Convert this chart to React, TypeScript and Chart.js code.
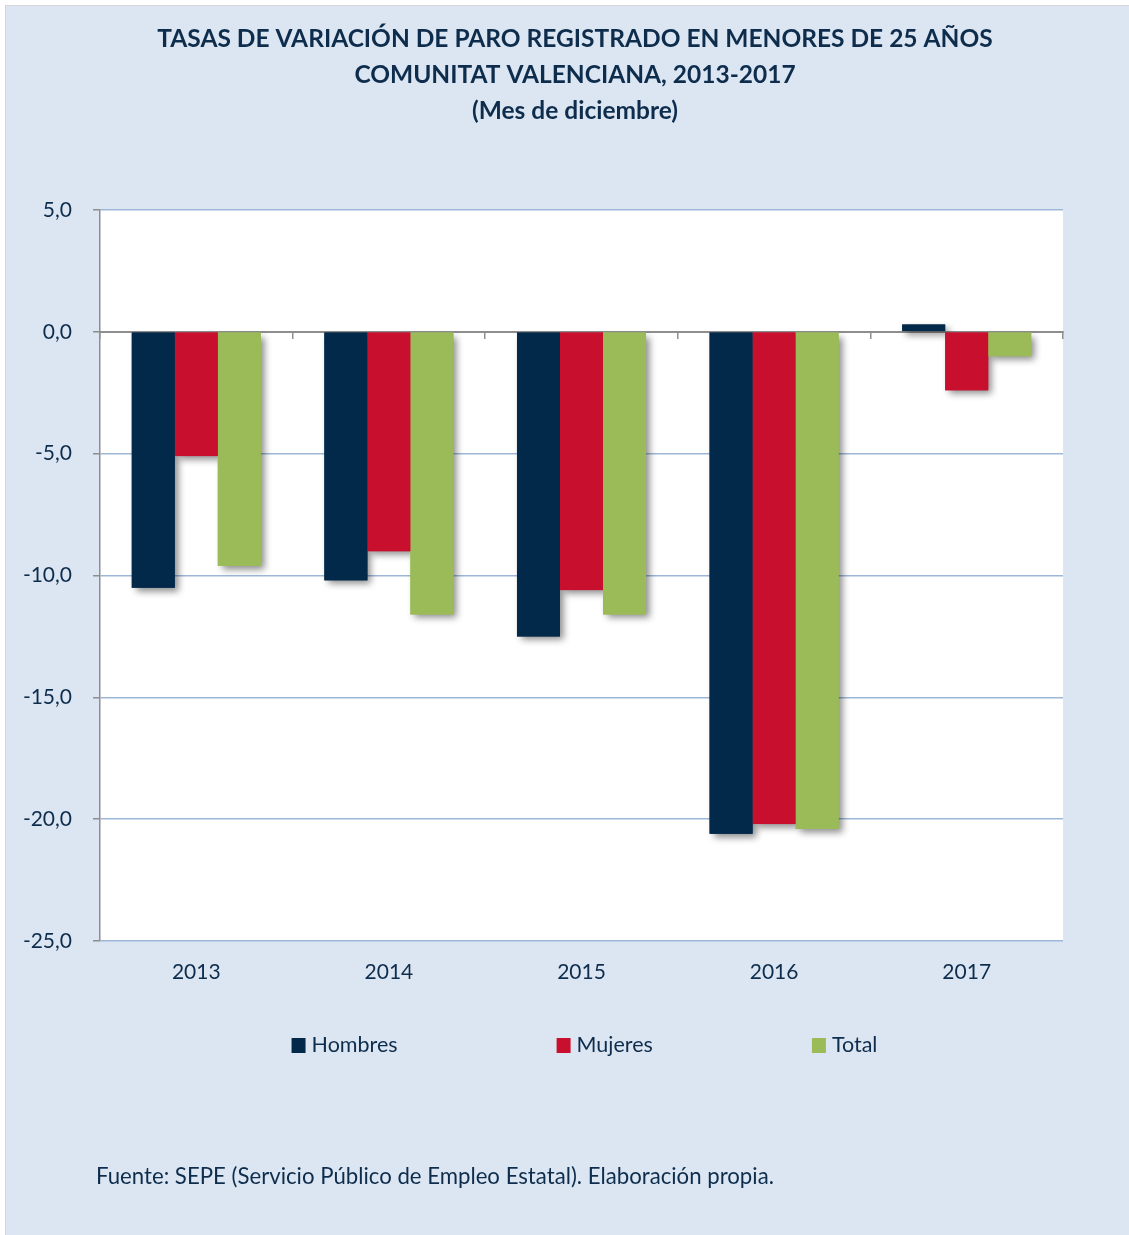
import React, { useEffect, useRef } from 'react';
import { Chart, registerables } from 'chart.js';

Chart.register(...registerables);

const years = ['2013', '2014', '2015', '2016', '2017'];
const hombres = [-10.5, -10.2, -12.5, -20.6, 0.3];
const mujeres = [-5.1, -9.0, -10.6, -20.2, -2.4];
const total = [-9.6, -11.6, -11.6, -20.4, -1.0];
const seriesLabels = ['Hombres', 'Mujeres', 'Total'];
const seriesColors = ['#03294a', '#c8102e', '#9bbb59'];
const yMin = -25;
const yMax = 5;
const yStep = 5;
const titleLines = [
  'TASAS DE VARIACIÓN DE PARO REGISTRADO EN MENORES DE 25 AÑOS',
  'COMUNITAT VALENCIANA, 2013-2017',
  '(Mes de diciembre)',
];
const sourceText = 'Fuente: SEPE (Servicio Público de Empleo Estatal). Elaboración propia.';

const FONT = 'Lato, "Open Sans", sans-serif';
const TEXT = '#0e2d4d';
const GRID = '#9db7d8';
const AXIS = '#8e8e8e';

const W = 1123;
const H = 1229;

const plotBgPlugin = {
  id: 'plotBg',
  beforeDraw(chart: any) {
    const { ctx, chartArea: a } = chart;
    ctx.save();
    ctx.fillStyle = '#ffffff';
    ctx.fillRect(a.left, a.top, a.right - a.left, a.bottom - a.top);
    ctx.restore();
  },
};

const shadowPlugin = {
  id: 'barShadow',
  beforeDatasetsDraw(chart: any) {
    const ctx = chart.ctx;
    ctx.save();
    chart.data.datasets.forEach((ds: any, i: number) => {
      const meta = chart.getDatasetMeta(i);
      meta.data.forEach((el: any) => {
        const p = el.getProps(['x', 'y', 'base', 'width'], true);
        const left = p.x - p.width / 2;
        const top = Math.min(p.y, p.base);
        const h = Math.abs(p.base - p.y);
        ctx.shadowColor = 'rgba(0,0,0,0.45)';
        ctx.shadowBlur = 7;
        ctx.shadowOffsetX = 4;
        ctx.shadowOffsetY = 4;
        ctx.fillStyle = ds.backgroundColor;
        ctx.fillRect(left, top, p.width, h);
      });
    });
    ctx.restore();
  },
};

const legendFooterPlugin = {
  id: 'legendFooter',
  afterDraw(chart: any) {
    const ctx = chart.ctx;
    const area = chart.chartArea;
    ctx.save();
    ctx.font = `21.5px ${FONT}`;
    ctx.textBaseline = 'middle';
    ctx.textAlign = 'left';
    const box = 14;
    const gapBT = 6;
    const gapItems = 159;
    const items = chart.data.datasets.map((d: any) => ({
      text: d.label as string,
      color: d.backgroundColor as string,
      w: ctx.measureText(d.label).width,
    }));
    const totalW =
      items.reduce((s: number, it: any) => s + box + gapBT + it.w, 0) + gapItems * (items.length - 1);
    let x = (area.left + area.right) / 2 + 3 - totalW / 2;
    const cy = area.bottom + 104;
    items.forEach((it: any) => {
      ctx.fillStyle = it.color;
      ctx.fillRect(x, cy - box / 2, box, box + 1);
      ctx.fillStyle = TEXT;
      ctx.fillText(it.text, x + box + gapBT, cy);
      x += box + gapBT + it.w + gapItems;
    });
    ctx.font = `22.2px ${FONT}`;
    ctx.fillStyle = TEXT;
    ctx.fillText(sourceText, 90, area.bottom + 236);
    ctx.restore();
  },
};

export default function App() {
  const ref = useRef<HTMLCanvasElement | null>(null);

  useEffect(() => {
    if (!ref.current) return;
    const zeroTicks = (offset: boolean) => ({
      type: 'category',
      axis: 'x',
      position: { y: 0 },
      offset: true,
      z: 1,
      grid: {
        offset,
        drawOnChartArea: false,
        drawTicks: true,
        tickLength: 6,
        tickColor: AXIS,
        lineWidth: 1.5,
      },
      border: { display: true, color: AXIS, width: 2 },
      ticks: { display: false },
    });
    const chart = new Chart(ref.current, {
      type: 'bar',
      data: {
        labels: years,
        datasets: [
          { label: seriesLabels[0], data: hombres, backgroundColor: seriesColors[0] },
          { label: seriesLabels[1], data: mujeres, backgroundColor: seriesColors[1] },
          { label: seriesLabels[2], data: total, backgroundColor: seriesColors[2] },
        ],
      },
      options: {
        responsive: false,
        animation: false,
        devicePixelRatio: 1,
        datasets: {
          bar: { barPercentage: 1, categoryPercentage: 0.67, borderWidth: 0 },
        },
        layout: { padding: { left: 15, right: 0, top: 0, bottom: 234 } },
        plugins: {
          legend: { display: false },
          tooltip: { enabled: false },
          title: {
            display: true,
            text: titleLines,
            color: TEXT,
            font: { family: FONT, size: 24.5, weight: 'bold', lineHeight: '36px' },
            padding: { top: 15, bottom: 81 },
          },
        },
        scales: {
          x: {
            type: 'category',
            position: 'bottom',
            grid: { display: false, drawTicks: false },
            border: { display: false },
            ticks: { color: TEXT, font: { family: FONT, size: 21 }, padding: 19 },
            afterFit: (s: any) => {
              s.height = 60;
            },
          },
          xzb: zeroTicks(true),
          xzc: zeroTicks(false),
          y: {
            type: 'linear',
            position: 'left',
            min: yMin,
            max: yMax,
            grid: { color: GRID, lineWidth: 1.5, tickColor: AXIS, tickLength: 7, drawTicks: true },
            border: { display: true, color: AXIS, width: 1.5 },
            ticks: {
              stepSize: yStep,
              padding: 21,
              color: TEXT,
              font: { family: FONT, size: 21 },
              callback: (v: any) => Number(v).toFixed(1).replace('.', ','),
            },
            afterFit: (s: any) => {
              s.width = 79;
            },
          },
          yr: {
            type: 'linear',
            position: 'right',
            min: yMin,
            max: yMax,
            grid: { display: false, drawOnChartArea: false, drawTicks: false },
            border: { display: false },
            ticks: { display: false },
            afterFit: (s: any) => {
              s.width = 66;
            },
          },
        },
      } as any,
      plugins: [plotBgPlugin, shadowPlugin, legendFooterPlugin],
    });
    return () => chart.destroy();
  }, []);

  return (
    <div
      style={{
        position: 'absolute',
        left: 5,
        top: 5,
        width: W,
        height: H,
        background: '#dce6f2',
        borderTop: '1px solid #d6d6d6',
        borderLeft: '1px solid #d6d6d6',
      }}
    >
      <canvas ref={ref} width={W} height={H} style={{ display: 'block', width: W, height: H }} />
    </div>
  );
}
